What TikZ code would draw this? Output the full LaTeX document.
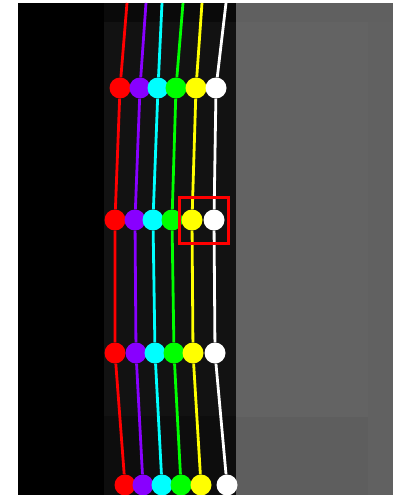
\documentclass[tikz,border=0pt]{standalone}
\usepackage{tikz}

\definecolor{trkred}{RGB}{255,0,0}
\definecolor{trkviolet}{RGB}{136,0,255}
\definecolor{trkcyan}{RGB}{0,255,255}
\definecolor{trkgreen}{RGB}{0,255,0}
\definecolor{trkyellow}{RGB}{255,255,0}
\definecolor{trkwhite}{RGB}{255,255,255}

\tikzset{
  dot/.style={circle,fill,inner sep=0pt,minimum size=21pt},
  trace/.style={line width=2.8pt},
}

\begin{document}
\begin{tikzpicture}[x=1pt,y=-1pt]
  \useasboundingbox (0,0) rectangle (393,495);
  % backdrop: black strip, dark column, grey panel
  \fill[white] (0,0) rectangle (393,495);
  \fill[black] (18,3) rectangle (104,495);
  \fill[black!93] (104,3) rectangle (236,495);
  \fill[black!96] (104,3) rectangle (236,22);
  \fill[black!95] (104,416) rectangle (236,495);
  \fill[black!61] (236,3) rectangle (393,495);
  \fill[black!62.5] (236,3) rectangle (393,22);
  \fill[black!62] (368,22) rectangle (393,495);
  \fill[black!63] (236,417) rectangle (368,495);
  % free upper ends of the traces
  \coordinate (r0) at (127,3);
  \coordinate (p0) at (146,3);
  \coordinate (c0) at (162,3);
  \coordinate (g0) at (183,3);
  \coordinate (y0) at (202,3);
  \coordinate (w0) at (226,3);
  % tracked points, four rows
  \node[dot,trkred]    (r1) at (120,88) {}; \node[dot,trkred]    (r2) at (115,220) {}; \node[dot,trkred]    (r3) at (115,353) {}; \node[dot,trkred]    (r4) at (125,485) {};
  \node[dot,trkviolet] (p1) at (140,88) {}; \node[dot,trkviolet] (p2) at (135,220) {}; \node[dot,trkviolet] (p3) at (136,353) {}; \node[dot,trkviolet] (p4) at (143,485) {};
  \node[dot,trkcyan]   (c1) at (158,88) {}; \node[dot,trkcyan]   (c2) at (153,220) {}; \node[dot,trkcyan]   (c3) at (155,353) {}; \node[dot,trkcyan]   (c4) at (162,485) {};
  \node[dot,trkgreen]  (g1) at (176,88) {}; \node[dot,trkgreen]  (g2) at (172,220) {}; \node[dot,trkgreen]  (g3) at (174,353) {}; \node[dot,trkgreen]  (g4) at (181,485) {};
  \node[dot,trkyellow] (y1) at (196,88) {}; \node[dot,trkyellow] (y2) at (192,220) {}; \node[dot,trkyellow] (y3) at (193,353) {}; \node[dot,trkyellow] (y4) at (201,485) {};
  \node[dot,trkwhite]  (w1) at (216,88) {}; \node[dot,trkwhite]  (w2) at (214,220) {}; \node[dot,trkwhite]  (w3) at (215,353) {}; \node[dot,trkwhite]  (w4) at (227,485) {};
  % traces
  \draw[trace,trkred]    (r0) -- (r1) -- (r2) -- (r3) -- (r4);
  \draw[trace,trkviolet] (p0) -- (p1) -- (p2) -- (p3) -- (p4);
  \draw[trace,trkcyan]   (c0) -- (c1) -- (c2) -- (c3) -- (c4);
  \draw[trace,trkgreen]  (g0) -- (g1) -- (g2) -- (g3) -- (g4);
  \draw[trace,trkyellow] (y0) -- (y1) -- (y2) -- (y3) -- (y4);
  \draw[trace,trkwhite]  (w0) -- (w1) -- (w2) -- (w3) -- (w4);
  % highlight box
  \draw[trkred,line width=3pt] (179,197) rectangle (228,243);
\end{tikzpicture}
\end{document}
